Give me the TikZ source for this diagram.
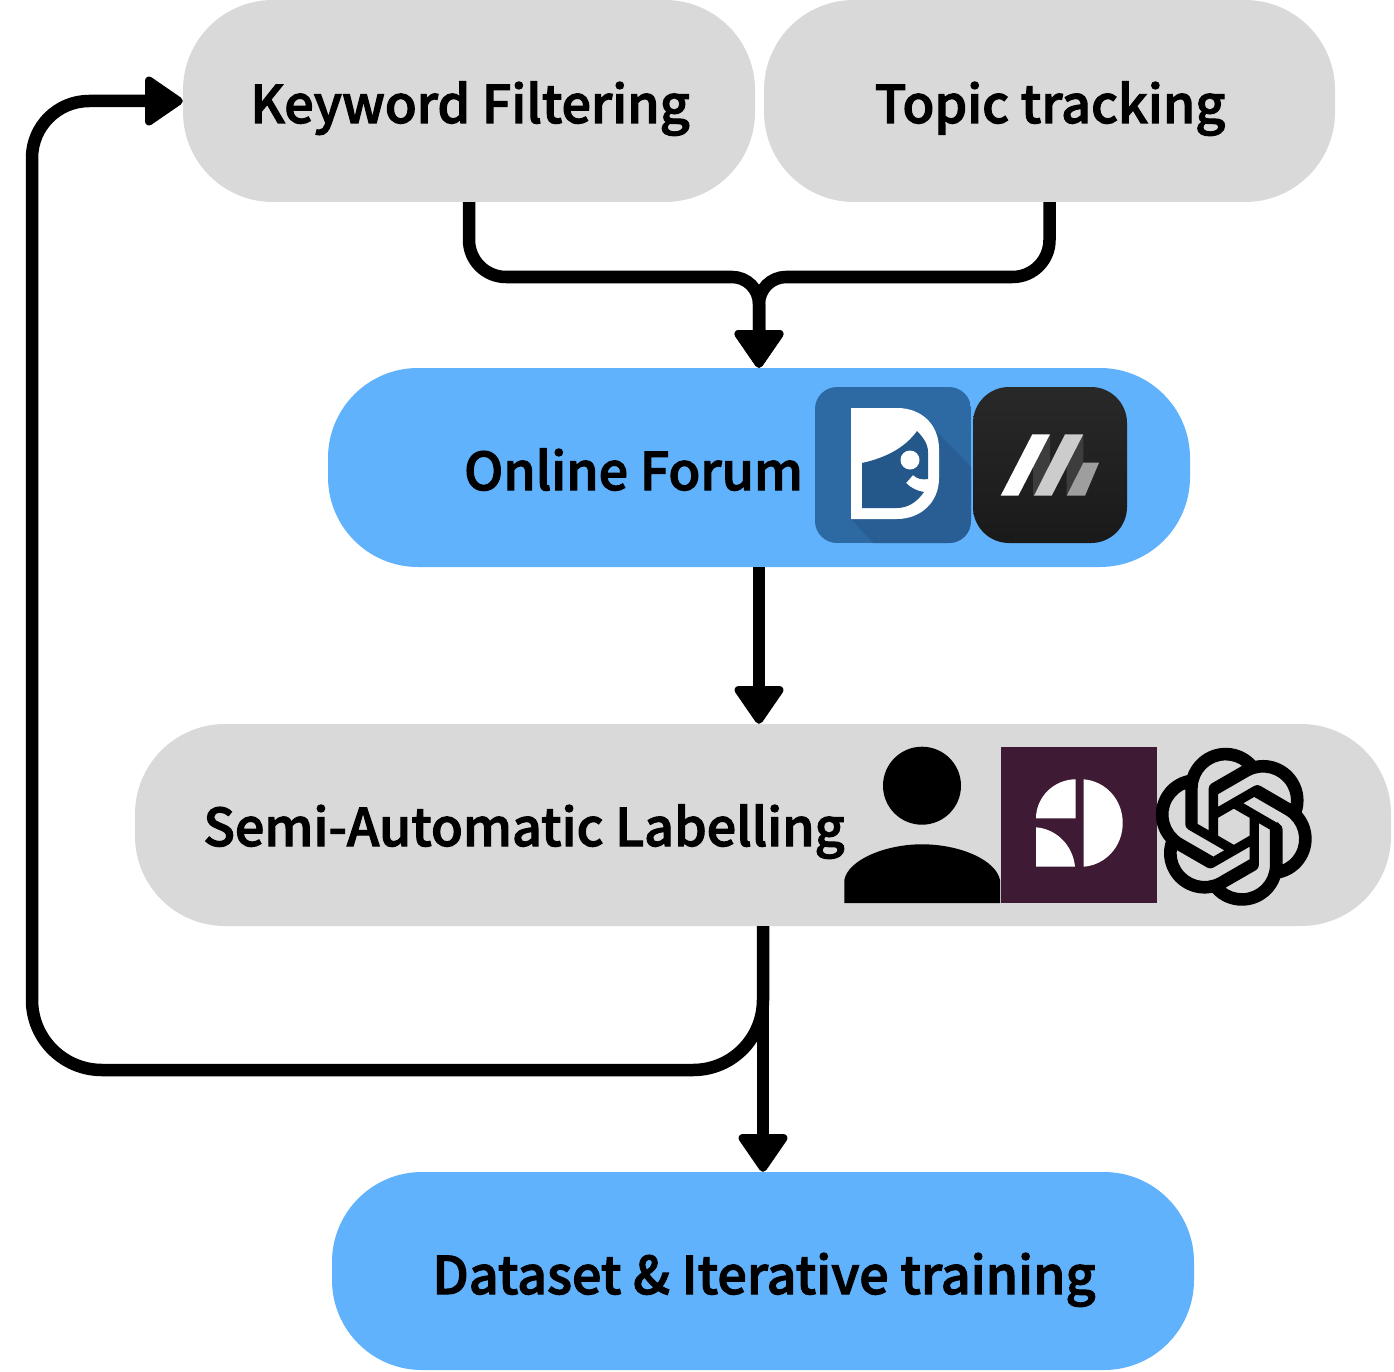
\documentclass[tikz,border=0pt]{standalone}
\usepackage{fontspec}
\newfontfamily\labfont{Noto Sans CJK SC Medium}[FakeBold=2.2]
\usetikzlibrary{arrows.meta,svg.path}
\definecolor{boxgray}{HTML}{D9D9D9}
\definecolor{boxblue}{HTML}{5FB2FB}
\definecolor{iconblue}{HTML}{2D69A3}
\definecolor{iconshadow}{HTML}{295E94}
\definecolor{iconface}{HTML}{24578A}
\definecolor{iconplum}{HTML}{3F1A35}
\tikzset{
  pill/.style={draw=none,rectangle,rounded corners=90pt,inner sep=0pt},
  graypill/.style={pill,fill=boxgray},
  bluepill/.style={pill,fill=boxblue},
  lab/.style={anchor=base,inner sep=0pt,font=\labfont\fontsize{52}{60}\selectfont,text=black},
  headtip/.tip={Triangle[round,line width=8pt,width=54pt,length=41pt]},
  conn/.style={line width=12.5pt,draw=black,-headtip},
}
\begin{document}
\begin{tikzpicture}[x=1pt,y=-1pt]
\useasboundingbox (0,0) rectangle (1394,1372);
% boxes
\node[graypill,minimum width=572pt,minimum height=202pt] (kw) at (469,101) {};
\node[graypill,minimum width=571pt,minimum height=202pt] (topic) at (1049.5,101) {};
\node[bluepill,minimum width=862pt,minimum height=199pt] (forum) at (759,467.5) {};
\node[graypill,minimum width=1256pt,minimum height=202pt] (semi) at (763,825) {};
\node[bluepill,minimum width=862pt,minimum height=198pt] (data) at (763,1271) {};
% labels
\node[lab] (kwl) at (470,123) {Keyword Filtering};
\node[lab] (topicl) at (1050,123) {Topic tracking};
\node[lab] (foruml) at (633.5,490) {Online Forum};
\node[lab] (semil) at (524,846) {Semi-Automatic Labelling};
\node[lab] (datal) at (764,1294) {Dataset \& Iterative training};
% connectors
\coordinate (kwbend) at (kw.south |- 0,277);
\coordinate (topicbend) at (topic.south |- 0,277);
\coordinate (forumin) at (forum.north |- 0,277);
\coordinate (dropa) at (semi.south |- 0,1070);
\coordinate (dropb) at (32,1070);
\coordinate (dropc) at (32,101);
\draw[conn] [rounded corners=37pt] (kw.south) -- (kwbend) [rounded corners=27pt] -- (forumin) -- (forum.north);
\draw[conn] [rounded corners=37pt] (topic.south) -- (topicbend) [rounded corners=27pt] -- (forumin) -- (forum.north);
\draw[conn] (forum.south) -- (semi.north -| forum.south);
\draw[conn] (semi.south) -- (data.north);
\draw[conn] [rounded corners=70pt] (semi.south) -- (dropa) -- (dropb) [rounded corners=57pt] -- (dropc) -- (kw.west);
% forum icon 1
\begin{scope}
\path[clip,rounded corners=22pt] (815,387) rectangle (971,543);
\fill[iconblue] (815,387) rectangle (971,543);
\fill[iconshadow] (933,428) -- (971,467) -- (971,543) -- (873,543) -- (851,519) -- cycle;
\end{scope}
\fill[white] (851,408) -- (897,408) .. controls (922,408) and (939,425) .. (939,449) -- (939,478) .. controls (939,503) and (920,519) .. (897,519) -- (851,519) -- cycle;
\fill[iconface] (862,463) .. controls (885,458) and (905,448) .. (917,431) .. controls (923,437) and (928,444) .. (928,452) -- (928,479) .. controls (922,480) and (917,479) .. (913,475) -- (906,483) .. controls (911,488) and (917,491) .. (924,492) .. controls (917,502) and (908,508) .. (897,508) -- (862,508) -- cycle;
\fill[white] (910,460) circle[radius=9.5];
% forum icon 2
\shade[top color=black!84,bottom color=black!90,rounded corners=36pt] (973,387) rectangle (1127,543);
\fill[black!76] (1033,466.7) -- (1050,434.3) -- (1050,464) -- (1034,495.7) -- (1033,495.7) -- cycle;
\fill[black!76] (1066.7,466.7) -- (1083.3,434.3) -- (1083.3,462.7) -- (1066.7,495.7) -- cycle;
\fill[white] (1000.7,495.7) -- (1018.3,495.7) -- (1050,434.3) -- (1032.3,434.3) -- cycle;
\fill[black!20] (1034,495.7) -- (1051.7,495.7) -- (1083.3,434.3) -- (1065,434.3) -- cycle;
\fill[black!38] (1066.7,495.7) -- (1085,495.7) -- (1099,462.7) -- (1083.3,462.7) -- cycle;
% person
\fill[black] (922,785.7) circle[radius=39];
\fill[black] (844.3,903) -- (844.3,880) .. controls (848,860) and (885,844.3) .. (922,844.3) .. controls (960,844.3) and (996,860) .. (1000,880) -- (1000,903) -- cycle;
% plum icon
\fill[iconplum] (1000.5,747) rectangle (1156.7,903);
\fill[white] (1075.7,818.3) -- (1036,818.3) .. controls (1036,797) and (1054,779.3) .. (1075.7,779.3) -- cycle;
\fill[white] (1036,827.3) .. controls (1057,829) and (1073,846) .. (1075,866.7) -- (1036,866.7) -- cycle;
\fill[white] (1083.7,779.3) .. controls (1105,781) and (1122.7,799) .. (1122.7,823) .. controls (1122.7,847) and (1105,865) .. (1083.7,866.7) -- cycle;
% knot icon
\begin{scope}[shift={(1156,749)},xscale=6.48,yscale=-6.48]
\filldraw[black,line width=2.4pt,even odd rule] svg {M 22.2819 9.8211 a 5.9847 5.9847 0 0 0 -.5157 -4.9108 6.0462 6.0462 0 0 0 -6.5098 -2.9 A 6.0651 6.0651 0 0 0 4.9807 4.1818 a 5.9847 5.9847 0 0 0 -3.9977 2.9 6.0462 6.0462 0 0 0 .7427 7.0966 5.98 5.98 0 0 0 .511 4.9107 6.051 6.051 0 0 0 6.5146 2.9001 A 5.9847 5.9847 0 0 0 13.2599 24 a 6.0557 6.0557 0 0 0 5.7718 -4.2058 5.9894 5.9894 0 0 0 3.9977 -2.9001 6.0557 6.0557 0 0 0 -.7475 -7.0729 z M 13.2599 22.4292 a 4.4755 4.4755 0 0 1 -2.8764 -1.0408 l .1419 -.0804 4.7783 -2.7582 a .7948 .7948 0 0 0 .3927 -.6813 v -6.7369 l 2.02 1.1686 a .071 .071 0 0 1 .038 .052 v 5.5826 a 4.504 4.504 0 0 1 -4.4945 4.4944 z M 3.5992 18.3038 a 4.4708 4.4708 0 0 1 -.5346 -3.0137 l .142 .0852 4.783 2.7582 a .7712 .7712 0 0 0 .7806 0 l 5.8428 -3.3685 v 2.3324 a .0804 .0804 0 0 1 -.0332 .0615 L 9.74 19.9502 a 4.4992 4.4992 0 0 1 -6.1408 -1.6464 z M 2.3408 7.8956 a 4.485 4.485 0 0 1 2.3655 -1.9728 V 11.6 a .7664 .7664 0 0 0 .3879 .6765 l 5.8144 3.3543 -2.0201 1.1685 a .0757 .0757 0 0 1 -.071 0 l -4.8303 -2.7865 A 4.504 4.504 0 0 1 2.3408 7.872 z M 18.9371 11.7514 L 13.1038 8.364 15.1192 7.2 a .0757 .0757 0 0 1 .071 0 l 4.8303 2.7913 a 4.4944 4.4944 0 0 1 -.6765 8.1042 v -5.6772 a .79 .79 0 0 0 -.407 -.667 z M 20.9478 8.7283 l -.142 -.0852 -4.7735 -2.7818 a .7759 .7759 0 0 0 -.7854 0 L 9.409 9.2297 V 6.8974 a .0662 .0662 0 0 1 .0284 -.0615 l 4.8303 -2.7866 a 4.4992 4.4992 0 0 1 6.6802 4.66 z M 8.3065 12.863 l -2.02 -1.1638 a .0804 .0804 0 0 1 -.038 -.0567 V 6.0742 a 4.4992 4.4992 0 0 1 7.3757 -3.4537 l -.142 .0805 L 8.704 5.459 a .7948 .7948 0 0 0 -.3927 .6813 z M 9.4041 10.4976 l 2.602 -1.4998 2.6069 1.4998 v 2.9994 l -2.5974 1.4997 -2.6067 -1.4997 Z};
\end{scope}
\end{tikzpicture}
\end{document}
